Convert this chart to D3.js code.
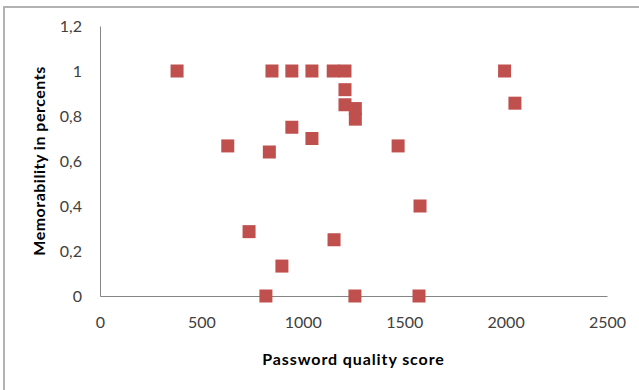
<!DOCTYPE html>
<html>
<head>
<meta charset="utf-8">
<script src="https://cdn.jsdelivr.net/npm/d3@7"></script>
<style>
  html, body { margin: 0; padding: 0; background: #fff; }
  svg { display: block; font-family: Lato, "Open Sans", sans-serif; }
</style>
</head>
<body>
<svg id="chart"></svg>
<script>
// Passwortqualität vs. Merkbarkeit
const scores = [380, 848, 946, 1045, 1150, 1208, 1208, 1208, 1259, 1259, 1995, 2046,
                630, 835, 946, 1045, 1470, 1578, 735, 897, 1154, 818, 1257, 1573];
const memorability = [1, 1, 1, 1, 1, 1, 0.917, 0.85, 0.833, 0.786, 1, 0.857,
                      0.667, 0.64, 0.75, 0.70, 0.667, 0.40, 0.286, 0.133, 0.25, 0, 0, 0];
const xTicks = [0, 500, 1000, 1500, 2000, 2500];
const yTicks = [0, 0.2, 0.4, 0.6, 0.8, 1, 1.2];

const width = 639, height = 390;
const margin = { top: 26, right: 32, bottom: 94, left: 100 };
const innerWidth  = width  - margin.left - margin.right;
const innerHeight = height - margin.top  - margin.bottom;

const svg = d3.select("#chart")
  .attr("width", width)
  .attr("height", height);

// Rahmen (nur oben und links sichtbar)
svg.append("path")
  .attr("d", `M4,${height} V7 H${width}`)
  .attr("fill", "none")
  .attr("stroke", "#b2b2b2")
  .attr("stroke-width", 2);

const g = svg.append("g")
  .attr("transform", `translate(${margin.left},${margin.top})`);

const x = d3.scaleLinear().domain([0, 2500]).range([0, innerWidth]);
const y = d3.scaleLinear().domain([0, 1.2]).range([innerHeight, 0]);

const fmt = d => String(d).replace(".", ",");

const xAxis = g.append("g")
  .attr("transform", `translate(0,${innerHeight})`)
  .call(d3.axisBottom(x).tickValues(xTicks).tickSize(0).tickPadding(21).tickFormat(fmt));

const yAxis = g.append("g")
  .call(d3.axisLeft(y).tickValues(yTicks).tickSize(0).tickPadding(18).tickFormat(fmt));

[xAxis, yAxis].forEach(a => {
  a.select(".domain").attr("stroke", "#868686");
  a.selectAll("text")
    .attr("font-family", "Lato, 'Open Sans', sans-serif")
    .attr("font-size", "16px")
    .attr("fill", "#404040");
});

// Punkte als Quadrate
const s = 13;
g.selectAll("rect.pt")
  .data(scores.map((v, i) => ({ score: v, mem: memorability[i] })))
  .join("rect")
  .attr("class", "pt")
  .attr("x", d => x(d.score) - s / 2)
  .attr("y", d => y(d.mem) - s / 2)
  .attr("width", s)
  .attr("height", s)
  .attr("fill", "#c0504d");

// Achsentitel
svg.append("text")
  .attr("x", margin.left + innerWidth / 2)
  .attr("y", 365)
  .attr("text-anchor", "middle")
  .attr("font-size", "16px")
  .attr("font-weight", "bold")
  .attr("letter-spacing", "0.9px")
  .attr("fill", "#000")
  .text("Password quality score");

svg.append("text")
  .attr("transform", `translate(45,${margin.top + innerHeight / 2}) rotate(-90)`)
  .attr("text-anchor", "middle")
  .attr("font-size", "16px")
  .attr("font-weight", "bold")
  .attr("letter-spacing", "0.5px")
  .attr("fill", "#000")
  .text("Memorability in percents");
</script>
</body>
</html>
